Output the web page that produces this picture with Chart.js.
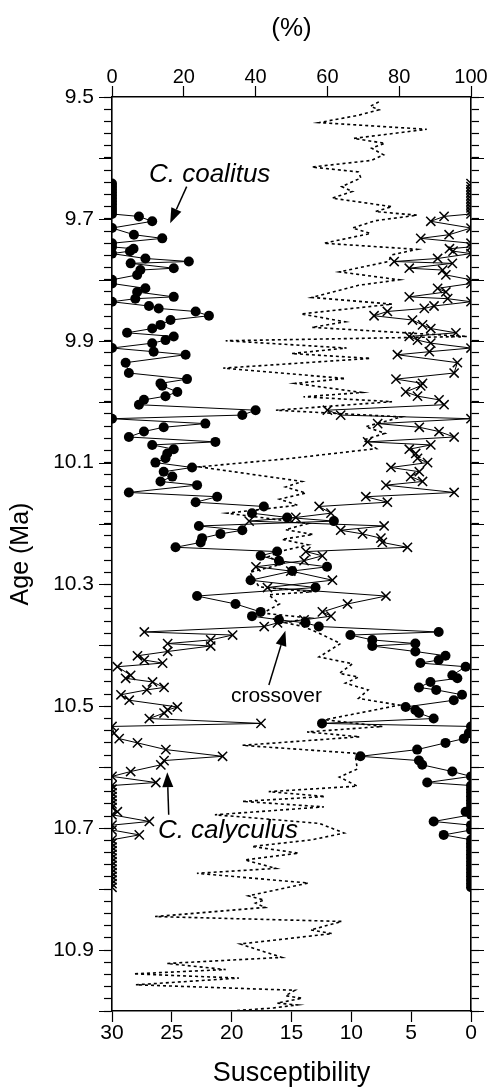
<!DOCTYPE html>
<html>
<head>
<meta charset="utf-8">
<script src="https://cdn.jsdelivr.net/npm/chart.js@4.4.1/dist/chart.umd.min.js"></script>
<style>
  html, body { margin: 0; padding: 0; background: #fff; }
  canvas { display: block; }
</style>
</head>
<body>
<canvas id="chart" width="490" height="1087"></canvas>
<script>
// sample ages (Ma), shared by both species curves
const sampleAges = [
  9.642, 9.647, 9.652, 9.657, 9.662, 9.667, 9.672, 9.677, 9.682, 9.687, 9.692, 9.696, 9.704,
  9.715, 9.726, 9.732, 9.740, 9.746, 9.749, 9.753, 9.757, 9.765, 9.770, 9.773, 9.781, 9.784,
  9.792, 9.800, 9.806, 9.814, 9.820, 9.828, 9.831, 9.836, 9.843, 9.847, 9.852, 9.859, 9.866,
  9.874, 9.880, 9.887, 9.893, 9.899, 9.904, 9.912, 9.918, 9.923, 9.936, 9.953, 9.963, 9.970,
  9.974, 9.984, 9.991, 9.997, 10.005, 10.014, 10.022, 10.028, 10.036, 10.042, 10.049, 10.058,
  10.066, 10.071, 10.078, 10.085, 10.093, 10.100, 10.108, 10.115, 10.123, 10.131, 10.137,
  10.149, 10.156, 10.165, 10.172, 10.183, 10.190, 10.196, 10.204, 10.211, 10.217, 10.224,
  10.231, 10.239, 10.246, 10.253, 10.261, 10.271, 10.278, 10.293, 10.305, 10.319, 10.332,
  10.345, 10.352, 10.358, 10.363, 10.369, 10.378, 10.383, 10.391, 10.397, 10.401, 10.410,
  10.417, 10.424, 10.429, 10.435, 10.449, 10.454, 10.460, 10.469, 10.473, 10.481, 10.490,
  10.501, 10.506, 10.511, 10.520, 10.528, 10.533, 10.544, 10.553, 10.560, 10.571, 10.582,
  10.589, 10.596, 10.607, 10.615, 10.625, 10.630, 10.636, 10.642, 10.648, 10.654, 10.660,
  10.666, 10.673, 10.678, 10.689, 10.695, 10.703, 10.711, 10.719, 10.725, 10.731, 10.737,
  10.743, 10.749, 10.755, 10.761, 10.767, 10.773, 10.779, 10.785, 10.791, 10.797
];

// C. coalitus (%)
const coalitusPct = [
  0, 0, 0, 0, 0, 0, 0, 0, 0, 0, 0, 7.5, 11.2,
  0, 6.1, 14.0, 0, 0, 6.0, 5.0, 0, 9.3, 21.4, 5.2, 17.2, 7.9,
  7.0, 0, 0, 9.3, 7.0, 17.2, 6.5, 0, 10.3, 13.0, 23.3, 27.0, 16.3,
  13.5, 11.2, 4.2, 17.2, 14.9, 11.2, 0, 11.6, 20.5, 3.8, 4.7, 20.9, 13.5,
  14.0, 18.2, 14.9, 8.9, 7.5, 40.0, 36.3, 0, 26.0, 14.4, 8.9, 4.7,
  28.8, 11.2, 17.2, 15.4, 14.9, 12.1, 22.3, 14.4, 16.8, 13.5, 23.7,
  4.7, 29.3, 23.3, 42.3, 39.0, 48.8, 61.8, 24.2, 36.3, 30.2, 25.1,
  24.7, 17.7, 46.0, 41.4, 46.5, 59.9, 50.2, 38.6, 56.7, 23.7, 34.4,
  41.4, 39.0, 46.5, 53.9, 57.6, 91.0, 66.4, 72.5, 84.5, 72.5, 84.5,
  92.9, 91.0, 85.9, 98.5, 94.8, 96.2, 88.7, 85.5, 90.3, 97.5, 95.2,
  81.8, 84.5, 85.5, 89.6, 58.5, 100, 99.4, 98.0, 92.9, 85.0, 69.2,
  85.5, 86.4, 94.8, 100, 87.8, 100, 100, 100, 100, 100, 100,
  100, 98.5, 100, 89.6, 100, 100, 92.4, 100, 100, 100, 100,
  100, 100, 100, 100, 100, 100, 100, 100, 100, 100
];

// C. calyculus (%)
const calyculusPct = [
  100, 100, 100, 100, 100, 100, 100, 100, 100, 100, 100, 92.5, 88.8,
  100, 93.9, 86.0, 100, 100, 94.0, 95.0, 100, 90.7, 78.6, 94.8, 82.8, 92.1,
  93.0, 100, 100, 90.7, 93.0, 82.8, 93.5, 100, 89.7, 87.0, 76.7, 73.0, 83.7,
  86.5, 88.8, 95.8, 82.8, 85.1, 88.8, 100, 88.4, 79.5, 96.2, 95.3, 79.1, 86.5,
  86.0, 81.8, 85.1, 91.1, 92.5, 60.0, 63.7, 100, 74.0, 85.6, 91.1, 95.3,
  71.2, 88.8, 82.8, 84.6, 85.1, 87.9, 77.7, 85.6, 83.2, 86.5, 76.3,
  95.3, 70.7, 76.7, 57.7, 61.0, 51.2, 38.2, 75.8, 63.7, 69.8, 74.9,
  75.3, 82.3, 54.0, 58.6, 53.5, 40.1, 49.8, 61.4, 43.3, 76.3, 65.6,
  58.6, 61.0, 53.5, 46.1, 42.4, 9.0, 33.6, 27.5, 15.5, 27.5, 15.5,
  7.1, 9.0, 14.1, 1.5, 5.2, 3.8, 11.3, 14.5, 9.7, 2.5, 4.8,
  18.2, 15.5, 14.5, 10.4, 41.5, 0, 0.6, 2.0, 7.1, 15.0, 30.8,
  14.5, 13.6, 5.2, 0, 12.2, 0, 0, 0, 0, 0, 0,
  0, 1.5, 0, 10.4, 0, 0, 7.6, 0, 0, 0, 0,
  0, 0, 0, 0, 0, 0, 0, 0, 0, 0
];

// magnetic susceptibility record
const susAges = [
  9.508, 9.515, 9.521, 9.530, 9.542, 9.553, 9.568, 9.576, 9.584, 9.595, 9.604, 9.615, 9.623,
  9.633, 9.647, 9.655, 9.666, 9.680, 9.688, 9.694, 9.703, 9.715, 9.724, 9.740, 9.750, 9.759,
  9.770, 9.787, 9.800, 9.809, 9.829, 9.840, 9.856, 9.869, 9.878, 9.893, 9.900, 9.912, 9.921,
  9.929, 9.945, 9.962, 9.970, 9.985, 9.992, 10.000, 10.014, 10.025, 10.041, 10.052, 10.063,
  10.077, 10.093, 10.107, 10.131, 10.140, 10.150, 10.160, 10.170, 10.183, 10.200, 10.210,
  10.218, 10.226, 10.235, 10.245, 10.255, 10.265, 10.280, 10.304, 10.312, 10.317, 10.332,
  10.347, 10.355, 10.363, 10.369, 10.380, 10.397, 10.419, 10.430, 10.446, 10.452, 10.462,
  10.473, 10.487, 10.498, 10.522, 10.533, 10.542, 10.550, 10.564, 10.577, 10.603, 10.616,
  10.631, 10.640, 10.648, 10.656, 10.665, 10.678, 10.692, 10.708, 10.719, 10.730, 10.741,
  10.752, 10.766, 10.774, 10.790, 10.811, 10.818, 10.823, 10.830, 10.845, 10.853, 10.867,
  10.873, 10.890, 10.912, 10.922, 10.932, 10.939, 10.946, 10.957, 10.966, 10.975, 10.979,
  10.987, 10.990, 10.995, 11.000
];
const susValues = [
  7.7, 8.4, 7.7, 9.4, 12.7, 3.7, 9.8, 7.2, 8.3, 7.3, 8.3, 13.3, 9.4,
  9.2, 10.8, 9.9, 11.6, 6.6, 8.0, 4.5, 8.0, 9.9, 8.4, 12.3, 4.5, 6.6,
  6.9, 11.0, 6.0, 9.4, 13.3, 6.6, 14.2, 10.5, 13.3, 0.3, 20.5, 10.4, 15.0,
  8.4, 20.7, 10.5, 14.7, 9.1, 14.0, 6.6, 16.3, 5.8, 8.8, 7.2, 9.0,
  7.9, 15.0, 22.7, 14.1, 15.5, 13.8, 16.0, 14.5, 20.4, 13.6, 15.5,
  13.2, 15.8, 13.6, 15.8, 17.0, 15.5, 18.5, 17.7, 13.3, 16.9, 16.0,
  17.4, 13.5, 15.5, 14.0, 12.7, 10.9, 12.7, 9.9, 11.0, 9.4, 10.5,
  8.6, 9.4, 6.0, 12.2, 7.4, 13.7, 9.3, 19.1, 9.7, 9.5, 11.0,
  9.5, 16.9, 12.2, 19.1, 12.3, 21.4, 12.7, 10.6, 13.3, 18.3, 14.4,
  18.9, 16.3, 22.9, 13.6, 18.6, 17.3, 18.0, 17.2, 26.4, 10.8, 13.4,
  11.6, 19.3, 15.8, 25.4, 20.5, 28.2, 19.4, 28.0, 14.7, 15.5, 14.1,
  16.2, 14.5, 16.5, 20.1
];

// axis labels
const ageLabels = [9.5, 9.7, 9.9, 10.1, 10.3, 10.5, 10.7, 10.9];
const pctTicks = [0, 20, 40, 60, 80, 100];
const susTicks = [30, 25, 20, 15, 10, 5, 0];

// annotations: [text, pct, age, font]
const notes = [
  ['C. coalitus', 27.2, 9.628, 'italic 26px'],
  ['C. calyculus', 32.3, 10.705, 'italic 26px'],
  ['crossover', 45.8, 10.483, '21px']
];
// arrows: [fromPct, fromAge, toPct, toAge]
const arrows = [
  [20.8, 9.647, 16.2, 9.707],
  [15.8, 10.678, 15.4, 10.608],
  [43.7, 10.465, 48.3, 10.376]
];

const FONT = '"Liberation Sans", Arial, Helvetica, sans-serif';
Chart.defaults.font.family = FONT;
Chart.defaults.color = '#000';

const ageTicks = [];
for (let i = 0; i <= 75; i++) ageTicks.push(+(9.5 + i * 0.02).toFixed(2));
const ageMajor = ageTicks.filter((v, i) => i % 5 === 0);

const toPts = (xs, ys) => xs.map((x, i) => ({ x: x, y: ys[i] }));

const yAxis = (pos) => ({
  type: 'linear',
  position: pos,
  min: 9.5,
  max: 11.0,
  reverse: true,
  afterBuildTicks: s => { s.ticks = ageTicks.map(v => ({ value: v })); },
  afterFit: s => { s.width = pos === 'left' ? 112 : 19; },
  grid: { drawOnChartArea: false, tickLength: 8, tickColor: '#000', tickWidth: 1.2 },
  border: { display: true, color: '#000', width: 1.6 },
  ticks: {
    display: pos === 'left',
    autoSkip: false,
    padding: 10,
    font: { size: 21 },
    callback: v => ageLabels.some(a => Math.abs(a - v) < 1e-6) ? (+v).toFixed(1) : ''
  },
  title: {
    display: pos === 'left',
    text: 'Age (Ma)',
    font: { size: 25, lineHeight: 1 },
    padding: { top: 9, bottom: 0 }
  }
});

// longer ticks on every 0.1 Ma, and the text/arrow annotations
const extras = {
  id: 'extras',
  afterDraw(chart) {
    const { ctx, chartArea: ca, scales } = chart;
    const y = scales.y, px = scales.pct;
    ctx.save();
    ctx.strokeStyle = '#000';
    ctx.lineWidth = 1.2;
    ageMajor.forEach(v => {
      const py = Math.round(y.getPixelForValue(v)) + 0.5;
      ctx.beginPath();
      ctx.moveTo(ca.left - 13, py); ctx.lineTo(ca.left, py);
      ctx.moveTo(ca.right, py); ctx.lineTo(ca.right + 13, py);
      ctx.stroke();
    });
    ctx.fillStyle = '#000';
    ctx.textAlign = 'center';
    ctx.textBaseline = 'middle';
    notes.forEach(([t, p, a, f]) => {
      ctx.font = f + ' ' + FONT;
      ctx.fillText(t, px.getPixelForValue(p), y.getPixelForValue(a));
    });
    ctx.lineWidth = 1.5;
    arrows.forEach(([p0, a0, p1, a1]) => {
      const x0 = px.getPixelForValue(p0), y0 = y.getPixelForValue(a0);
      const x1 = px.getPixelForValue(p1), y1 = y.getPixelForValue(a1);
      const ang = Math.atan2(y1 - y0, x1 - x0);
      const hl = 15, hw = 5.5;
      const bx = x1 - hl * Math.cos(ang), by = y1 - hl * Math.sin(ang);
      ctx.beginPath();
      ctx.moveTo(x0, y0); ctx.lineTo(bx, by);
      ctx.stroke();
      ctx.beginPath();
      ctx.moveTo(x1, y1);
      ctx.lineTo(bx + hw * Math.sin(ang), by - hw * Math.cos(ang));
      ctx.lineTo(bx - hw * Math.sin(ang), by + hw * Math.cos(ang));
      ctx.closePath();
      ctx.fill();
    });
    ctx.restore();
  }
};

new Chart(document.getElementById('chart'), {
  type: 'scatter',
  data: {
    datasets: [
      {
        label: 'Susceptibility',
        data: toPts(susValues, susAges),
        xAxisID: 'sus', yAxisID: 'y',
        showLine: true,
        borderColor: '#000', borderWidth: 1.6, borderDash: [3, 3],
        pointRadius: 0
      },
      {
        label: 'C. coalitus',
        data: toPts(coalitusPct, sampleAges),
        xAxisID: 'pct', yAxisID: 'y',
        showLine: true,
        borderColor: '#000', borderWidth: 1,
        pointStyle: 'circle', pointRadius: 5,
        pointBackgroundColor: '#000', pointBorderColor: '#000', pointBorderWidth: 0
      },
      {
        label: 'C. calyculus',
        data: toPts(calyculusPct, sampleAges),
        xAxisID: 'pct', yAxisID: 'y',
        showLine: true,
        borderColor: '#000', borderWidth: 1,
        pointStyle: 'crossRot', pointRadius: 6.5,
        pointBorderColor: '#000', pointBorderWidth: 1.5
      }
    ]
  },
  options: {
    responsive: false,
    animation: false,
    devicePixelRatio: 1,
    layout: { padding: 0 },
    plugins: { legend: { display: false }, tooltip: { enabled: false } },
    scales: {
      pct: {
        type: 'linear', position: 'top', min: 0, max: 100,
        afterBuildTicks: s => { s.ticks = pctTicks.map(v => ({ value: v })); },
        afterFit: s => { s.height = 97; },
        grid: { drawOnChartArea: false, tickLength: 11, tickColor: '#000', tickWidth: 1.2 },
        border: { display: true, color: '#000', width: 1.6 },
        ticks: { padding: -1, font: { size: 20, lineHeight: 1 } },
        title: { display: true, text: '(%)', font: { size: 26, lineHeight: 1 }, padding: { top: 16, bottom: 0 } }
      },
      sus: {
        type: 'linear', position: 'bottom', min: 0, max: 30, reverse: true,
        afterBuildTicks: s => { s.ticks = susTicks.map(v => ({ value: v })); },
        afterFit: s => { s.height = 76; },
        grid: { drawOnChartArea: false, tickLength: 11, tickColor: '#000', tickWidth: 1.2 },
        border: { display: true, color: '#000', width: 1.6 },
        ticks: { padding: 1, font: { size: 21, lineHeight: 1 } },
        title: { display: true, text: 'Susceptibility', font: { size: 27, lineHeight: 1 }, padding: { top: 0, bottom: 0 } }
      },
      y: yAxis('left'),
      y2: yAxis('right')
    }
  },
  plugins: [extras]
});
</script>
</body>
</html>
